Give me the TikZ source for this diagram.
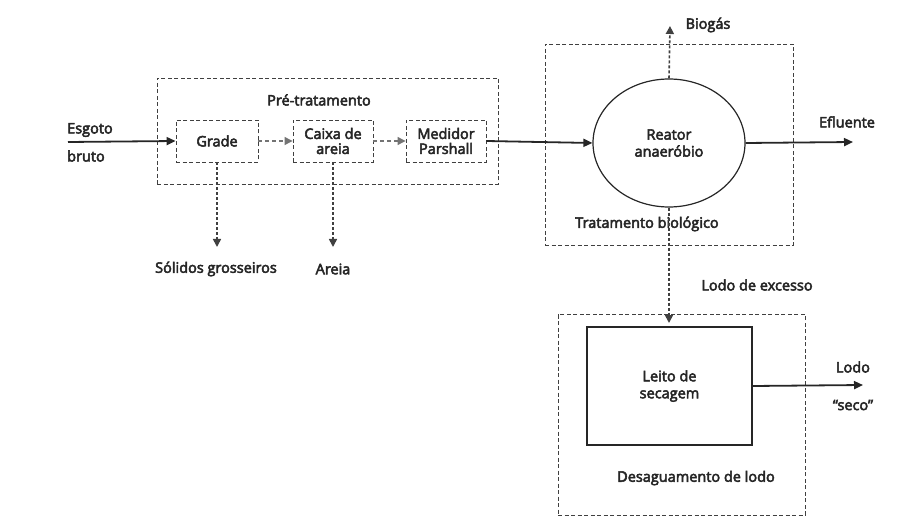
\documentclass[tikz,border=0pt]{standalone}
\usepackage{fontspec}
\newfontfamily\medfont{Open Sans}[FakeBold=3.5]
\usetikzlibrary{arrows.meta,shapes.geometric}
\begin{document}
\begin{tikzpicture}[x=1pt,y=-1pt,
  font=\medfont\fontsize{14.5}{16}\selectfont,
  txt/.style={inner sep=0pt, align=center, text=black!85},
  grp/.style={draw=black!75, line width=0.9pt, dash pattern=on 4pt off 2.5pt},
  unit/.style={draw=black!75, line width=0.9pt, dash pattern=on 4pt off 2.5pt, align=center, inner sep=0pt, text=black!85},
  flow/.style={draw=black!85, line width=1.8pt, -{Triangle[length=9pt,width=8pt]}},
  dflow/.style={draw=black!55, line width=1.2pt, dash pattern=on 4pt off 3pt, -{Triangle[length=8pt,width=8pt]}},
  gflow/.style={draw=black!75, line width=1.6pt, dash pattern=on 3pt off 2pt, -{Triangle[length=8pt,width=8pt]}}
]
\useasboundingbox (0,0) rectangle (904,521);

% group boxes
\node[grp, minimum width=341pt, minimum height=106pt] (pre) at (327.5,131) {};
\node[txt] (prel) at (319,100) {Pré-tratamento};
\node[grp, minimum width=248pt, minimum height=201pt] (bio) at (669,144.5) {};
\node[txt] (biol) at (647,224) {Tratamento biológico};
\node[grp, minimum width=247pt, minimum height=201pt] (des) at (681.5,414.5) {};
\node[txt] (desl) at (696,478) {Desaguamento de lodo};

% units
\node[unit, minimum width=82pt, minimum height=42pt] (grade) at (217,141) {Grade};
\node[unit, minimum width=80pt, minimum height=42pt] (caixa) at (333,141) {Caixa de\\[-1pt]areia};
\node[unit, minimum width=80pt, minimum height=42pt] (med) at (446,141) {Medidor\\[-1pt]Parshall};
\node[draw=black!85, line width=1.2pt, ellipse, minimum width=152pt, minimum height=128pt, inner sep=0pt, align=center, text=black!85] (reator) at (669,143) {Reator\\[1pt]anaeróbio};
\node[draw=black!85, line width=1.4pt, minimum width=165pt, minimum height=118pt, inner sep=0pt, align=center, text=black!85] (leito) at (669.5,386) {Leito de\\[1pt]secagem};

% texts
\node[txt, anchor=west] (esg) at (67,130) {Esgoto};
\node[txt, anchor=west] (bru) at (67,156) {bruto};
\node[txt] (sol) at (216,269) {Sólidos grosseiros};
\node[txt] (are) at (333,269) {Areia};
\node[txt] (bgl) at (708,25) {Biogás};
\node[txt] (efl) at (847,122) {Efluente};
\node[txt] (lex) at (757,285) {Lodo de excesso};
\node[txt] (lodo) at (853,367) {Lodo};
\node[txt] (seco) at (853,405) {“seco”};

\coordinate (in) at (68,142);
\coordinate (solt) at (217,247);
\coordinate (aret) at (333,247);
\coordinate (bgt) at (670,26);
\coordinate (eft) at (853,142);
\coordinate (lst) at (863,385);
\coordinate (lext) at (669,323);

% connectors
\draw[flow] (in) -- (grade.west);
\draw[dflow] (grade.east) -- (caixa.west);
\draw[dflow] (caixa.east) -- (med.west);
\draw[flow] (med.east) -- (reator.west);
\draw[flow] (reator.east) -- (eft);
\draw[gflow] (reator.north) -- (bgt);
\draw[gflow] (reator.south) -- (lext);
\draw[gflow] (grade.south) -- (solt);
\draw[gflow] (caixa.south) -- (aret);
\draw[flow] (leito.east) -- (lst);
\end{tikzpicture}
\end{document}
